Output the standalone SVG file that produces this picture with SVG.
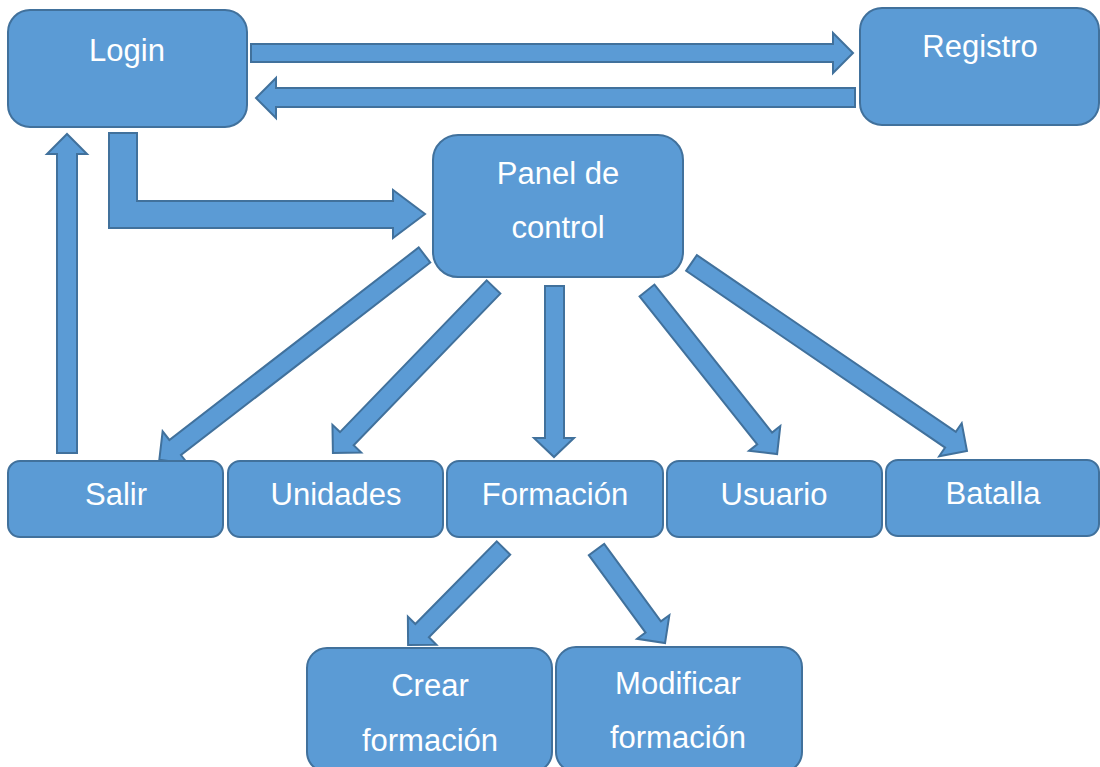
<svg xmlns="http://www.w3.org/2000/svg" width="1100" height="767" viewBox="0 0 1100 767">
  <style>
    .box { fill: #5B9BD5; stroke: #41719C; stroke-width: 2; }
    .arrow { fill: #5B9BD5; stroke: #41719C; stroke-width: 2; stroke-linejoin: miter; }
    .label { fill: #FFFFFF; font-family: "Liberation Sans", Arial, sans-serif; font-size: 31px; text-anchor: middle; }
  </style>
  <rect width="1100" height="767" fill="#FFFFFF"/>

  <!-- block arrows: rotated ones are drawn along +x from the tail, head 20 long -->
  <g id="connectors">
    <!-- Login -> Registro -->
    <polygon class="arrow" points="251,44 833,44 833,33 853,53 833,73 833,62 251,62"/>
    <!-- Registro -> Login -->
    <polygon class="arrow" points="855,88 276,88 276,78 256,98 276,118 276,107 855,107"/>
    <!-- Salir -> Login -->
    <polygon class="arrow" points="57,453 57,154 47,154 67,134 87,154 77,154 77,453"/>
    <!-- Login -> Panel de control (elbow) -->
    <polygon class="arrow" points="109,133 137,133 137,201 393,201 393,190 425,214 393,238 393,228 109,228"/>
    <!-- Panel de control -> Salir -->
    <polygon class="arrow" transform="translate(424.5,255) rotate(142.33)" points="0,-9.5 315,-9.5 315,-20.5 335,0 315,20.5 315,9.5 0,9.5"/>
    <!-- Panel de control -> Unidades -->
    <polygon class="arrow" transform="translate(493.5,287) rotate(134.04)" points="0,-9.5 211,-9.5 211,-20 231,0 211,20 211,9.5 0,9.5"/>
    <!-- Panel de control -> Formación -->
    <polygon class="arrow" points="545,286 564,286 564,438 574,438 554,457 534,438 545,438"/>
    <!-- Panel de control -> Usuario -->
    <polygon class="arrow" transform="translate(647,290.5) rotate(51.5)" points="0,-9.5 189,-9.5 189,-20 209,0 189,20 189,9.5 0,9.5"/>
    <!-- Panel de control -> Batalla -->
    <polygon class="arrow" transform="translate(691.5,263) rotate(34.31)" points="0,-9.5 313.5,-9.5 313.5,-20 333.5,0 313.5,20 313.5,9.5 0,9.5"/>
    <!-- Formación -> Crear formación -->
    <polygon class="arrow" transform="translate(503.5,548) rotate(134.55)" points="0,-9.5 116,-9.5 116,-20 136,0 116,20 116,9.5 0,9.5"/>
    <!-- Formación -> Modificar formación -->
    <polygon class="arrow" transform="translate(596.5,549.5) rotate(53.78)" points="0,-9.5 96,-9.5 96,-20 116,0 96,20 96,9.5 0,9.5"/>
  </g>

  <g id="login">
    <rect class="box" x="8" y="10" width="239" height="117" rx="22" ry="22"/>
    <text class="label" x="127" y="61">Login</text>
  </g>
  <g id="registro">
    <rect class="box" x="860" y="8" width="239" height="117" rx="22" ry="22"/>
    <text class="label" x="980" y="57">Registro</text>
  </g>
  <g id="panel">
    <rect class="box" x="433" y="135" width="250" height="142" rx="25" ry="25"/>
    <text class="label" x="558" y="184">Panel de</text>
    <text class="label" x="558" y="238">control</text>
  </g>
  <g id="salir">
    <rect class="box" x="8" y="461" width="215" height="76" rx="12" ry="12"/>
    <text class="label" x="116" y="505">Salir</text>
  </g>
  <g id="unidades">
    <rect class="box" x="228" y="461" width="215" height="76" rx="12" ry="12"/>
    <text class="label" x="336" y="505">Unidades</text>
  </g>
  <g id="formacion">
    <rect class="box" x="447" y="461" width="216" height="76" rx="12" ry="12"/>
    <text class="label" x="555" y="505">Formación</text>
  </g>
  <g id="usuario">
    <rect class="box" x="667" y="461" width="215" height="76" rx="12" ry="12"/>
    <text class="label" x="774" y="505">Usuario</text>
  </g>
  <g id="batalla">
    <rect class="box" x="886" y="460" width="213" height="76" rx="12" ry="12"/>
    <text class="label" x="993" y="504">Batalla</text>
  </g>
  <g id="crear-formacion">
    <rect class="box" x="307" y="648" width="245" height="124" rx="20" ry="20"/>
    <text class="label" x="430" y="696">Crear</text>
    <text class="label" x="430" y="751">formación</text>
  </g>
  <g id="modificar-formacion">
    <rect class="box" x="556" y="647" width="246" height="125" rx="20" ry="20"/>
    <text class="label" x="678" y="694">Modificar</text>
    <text class="label" x="678" y="748">formación</text>
  </g>
</svg>
